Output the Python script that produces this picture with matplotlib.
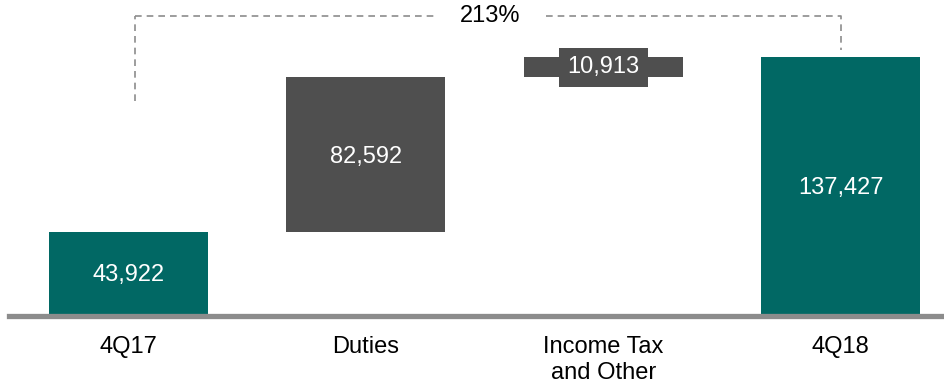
import matplotlib
matplotlib.use("Agg")
import matplotlib.pyplot as plt

plt.rcParams['font.family'] = ['Liberation Sans', 'DejaVu Sans']

categories = ["4Q17", "Duties", "Income Tax\nand Other", "4Q18"]
values = [43922, 82592, 10913, 137427]
kinds = ["total", "delta", "delta", "total"]

TEAL = "#016864"
GREY = "#4f4f4f"
LINE = "#8c8c8c"
FS = 17

fig = plt.figure(figsize=(9.45, 3.83), dpi=100)
ax = fig.add_axes([0, 0, 1, 1])
ax.set_xlim(-0.541, 3.440)
ax.set_ylim(-36900, 167900)
ax.axis("off")

# waterfall bars
running = 0
for i, (cat, v, k) in enumerate(zip(categories, values, kinds)):
    if k == "total":
        bottom = 0
        running = v
        color = TEAL
    else:
        bottom = running
        running += v
        color = GREY
    ax.bar(i, v, bottom=bottom, width=0.67, color=color, zorder=2)
    mid = bottom + v / 2
    if k == "delta" and v < 15000:
        # thin step: label sits on its own box over the bar
        box = dict(boxstyle="square,pad=0.36", fc=GREY, ec="none")
        ax.annotate(f"{v:,}", (i, mid), xytext=(0, 0), textcoords="offset pixels",
                    ha="center", va="center", color="white", fontsize=FS,
                    zorder=4, bbox=box)
    else:
        ax.annotate(f"{v:,}", (i, mid), xytext=(0, -8.5),
                    textcoords="offset pixels", ha="center", va="baseline",
                    color="white", fontsize=FS, zorder=4)
    # category name, one line per row under the baseline
    for j, line in enumerate(cat.split("\n")):
        ax.annotate(line, (i, 0), xytext=(0, -39 - 26 * j),
                    textcoords="offset pixels", ha="center", va="baseline",
                    fontsize=FS, color="black", annotation_clip=False)

# baseline
ax.axhline(-1100, xmin=9 / 945, xmax=1, color=LINE, lw=3.8, zorder=3)

# growth bracket between the two totals
growth = values[-1] / values[0] - 1
top = 159400
dash = dict(color=LINE, lw=1.2, ls=(0, (4, 3)))
ax.plot([0.027, 0.027], [113900, top], **dash)
ax.plot([0.027, 1.29], [top, top], **dash)
ax.plot([1.76, 3.0, 3.0], [top, top, 141200], **dash)
ax.text(1.525, top, f"{growth:.0%}", ha="center", va="center", fontsize=FS,
        color="black")

fig.savefig("out.png", dpi=100)
